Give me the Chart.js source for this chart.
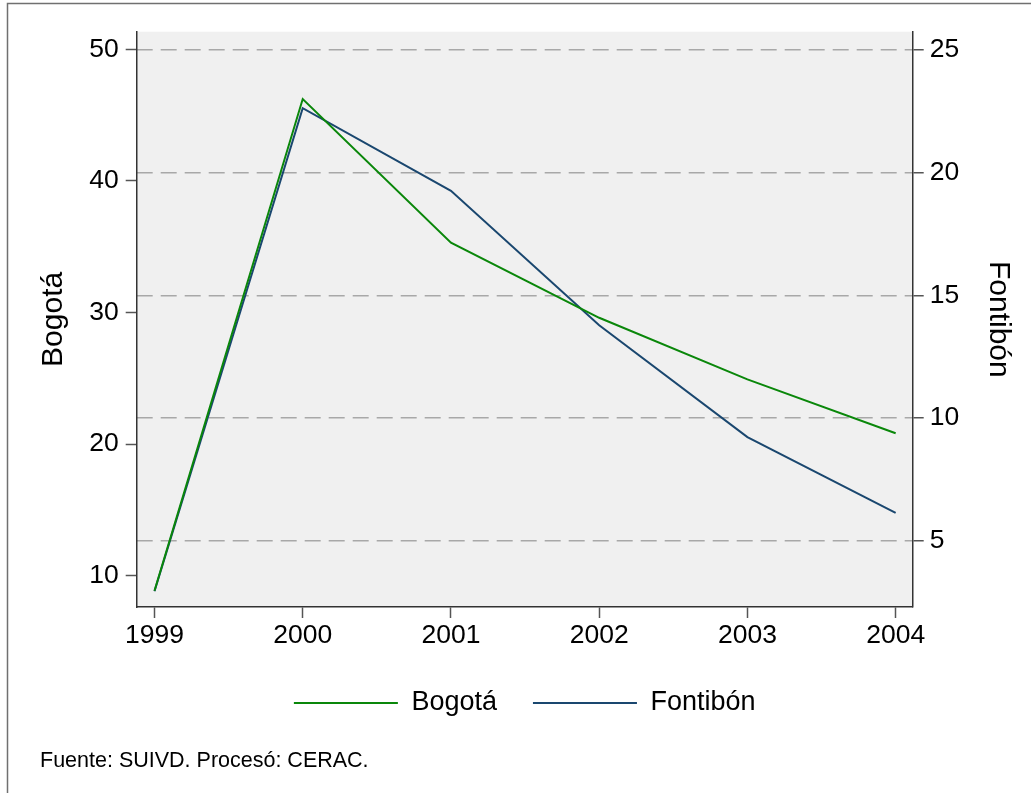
<!DOCTYPE html>
<html>
<head>
<meta charset="utf-8">
<script src="https://cdn.jsdelivr.net/npm/chart.js"></script>
<style>
  body { margin: 0; background: #fff; }
</style>
</head>
<body>
<canvas id="myChart" width="1031" height="793"></canvas>
<script>
// values
const years = [1999, 2000, 2001, 2002, 2003, 2004];
const bogota = [8.86, 46.22, 35.30, 29.6, 24.92, 20.82];
const fontibon = [2.93, 22.63, 19.26, 13.78, 9.22, 6.13];
const leftTicks = [10, 20, 30, 40, 50];
const rightTicks = [5, 10, 15, 20, 25];
const seriesNames = ["Bogotá", "Fontibón"];
const lineColors = ["#0a870a", "#1a476f"];
const footnote = "Fuente: SUIVD. Procesó: CERAC.";

Chart.defaults.font.family = "'Liberation Sans', Arial, sans-serif";
Chart.defaults.color = "#000";

function toPoints(values) {
  return years.map((yr, i) => ({x: yr, y: values[i]}));
}

const frame = {
  id: "frame",
  beforeDraw(chart) {
    const {ctx, chartArea: a} = chart;
    ctx.save();
    ctx.fillStyle = "#f0f0f0";
    ctx.fillRect(a.left, a.top, a.right - a.left, a.bottom - a.top);
    ctx.restore();
  },
  afterDraw(chart) {
    const ctx = chart.ctx;
    ctx.save();
    ctx.strokeStyle = "#707070";
    ctx.lineWidth = 1.5;
    ctx.beginPath();
    ctx.moveTo(7.5, 793);
    ctx.lineTo(7.5, 3.5);
    ctx.lineTo(1031, 3.5);
    ctx.stroke();
    ctx.fillStyle = "#000";
    ctx.font = "21.5px 'Liberation Sans', Arial, sans-serif";
    ctx.textBaseline = "middle";
    ctx.fillText(footnote, 40, 761);
    ctx.restore();
  }
};

new Chart("myChart", {
  type: "line",
  data: {
    datasets: [{
      label: seriesNames[0],
      data: toPoints(bogota),
      borderColor: lineColors[0],
      backgroundColor: lineColors[0],
      borderWidth: 2,
      pointRadius: 0,
      fill: false,
      yAxisID: "y"
    }, {
      label: seriesNames[1],
      data: toPoints(fontibon),
      borderColor: lineColors[1],
      backgroundColor: lineColors[1],
      borderWidth: 2,
      pointRadius: 0,
      fill: false,
      yAxisID: "y1"
    }]
  },
  options: {
    responsive: false,
    animation: false,
    devicePixelRatio: 1,
    layout: {padding: {top: 31.7, left: 0, right: 0, bottom: 66.5}},
    scales: {
      x: {
        type: "linear",
        min: 1998.88,
        max: 2004.115,
        afterBuildTicks: s => { s.ticks = years.map(v => ({value: v})); },
        afterFit: s => { s.height = 46.5; },
        grid: {drawOnChartArea: false, tickLength: 11, tickColor: "#555", tickWidth: 1.5},
        border: {color: "#333", width: 1.5},
        ticks: {font: {size: 26.5}, padding: 2, maxRotation: 0, autoSkip: false, callback: v => String(v)}
      },
      y: {
        position: "left",
        min: 7.62,
        max: 51.34,
        afterBuildTicks: s => { s.ticks = leftTicks.map(v => ({value: v})); },
        afterFit: s => { s.width = 136.7; },
        grid: {drawOnChartArea: false, tickLength: 11, tickColor: "#555", tickWidth: 1.5},
        border: {color: "#333", width: 1.5},
        ticks: {font: {size: 26.5}, padding: 7},
        title: {display: true, text: seriesNames[0], font: {size: 30}, padding: {top: 36, bottom: 0}}
      },
      y1: {
        position: "right",
        min: 2.29,
        max: 25.75,
        afterBuildTicks: s => { s.ticks = rightTicks.map(v => ({value: v})); },
        afterFit: s => { s.width = 118.3; },
        grid: {drawOnChartArea: true, color: "#a8a8a8", lineWidth: 1.5, tickLength: 11, tickColor: "#555", tickWidth: 1.5, tickBorderDash: []},
        border: {color: "#333", width: 1.5, dash: [16, 8]},
        ticks: {font: {size: 26.5}, padding: 6},
        title: {display: true, text: seriesNames[1], font: {size: 30}, padding: {top: 15, bottom: 0}}
      }
    },
    plugins: {
      legend: {
        position: "bottom",
        fullSize: false,
        labels: {
          usePointStyle: true,
          pointStyle: "line",
          pointStyleWidth: 104,
          font: {size: 27},
          padding: 36
        }
      },
      tooltip: {enabled: false}
    }
  },
  plugins: [frame]
});
</script>
</body>
</html>
